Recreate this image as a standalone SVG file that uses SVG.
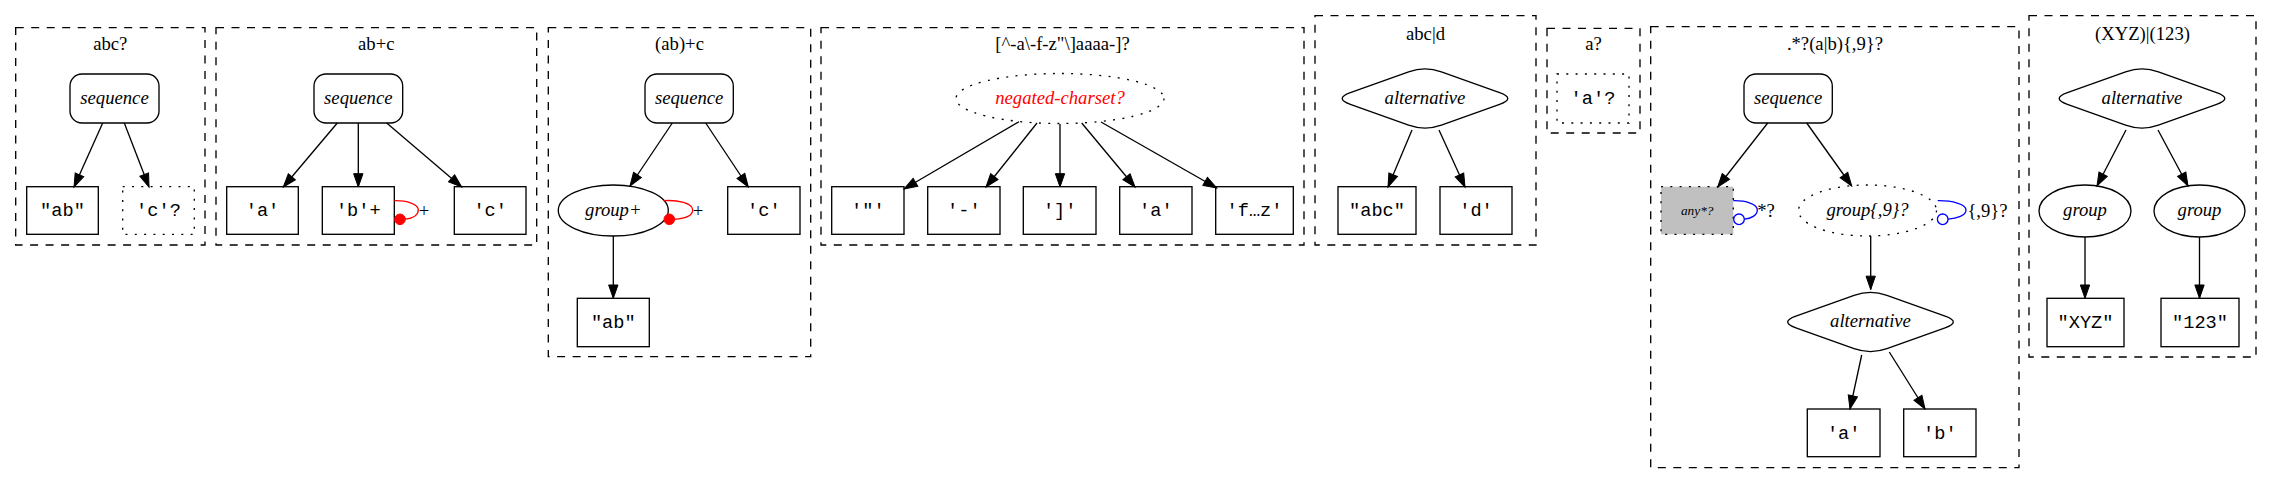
<svg xmlns="http://www.w3.org/2000/svg" width="2272" height="484" viewBox="0 0 2272 484">
<style>
.bg{fill:#fff}
.cl{fill:none;stroke:#000;stroke-width:1.33;stroke-dasharray:8,7.5}
.nd{fill:none;stroke:#000;stroke-width:1.33}
.dt{fill:none;stroke:#000;stroke-width:1.33;stroke-dasharray:2,7.3}
.e{fill:none;stroke:#000;stroke-width:1.33}
.title{font-family:"Liberation Serif",serif;font-size:18.67px;text-anchor:middle;fill:#000}
.it{font-family:"Liberation Serif",serif;font-style:italic;font-size:18.67px;text-anchor:middle;fill:#000}
.mono{font-family:"Liberation Mono",monospace;font-size:18.67px;text-anchor:middle;fill:#000}
.lbl{font-family:"Liberation Serif",serif;font-size:18.67px;text-anchor:middle;fill:#000}
</style>
<defs>
<marker id="ar" markerUnits="userSpaceOnUse" markerWidth="16" markerHeight="12" viewBox="0 -6 14 12" refX="13.33" refY="0" orient="auto">
<path d="M0,-4.67 L13.33,0 L0,4.67 Z" fill="#000" stroke="#000" stroke-width="1"/>
</marker>
</defs>
<rect class="bg" x="0" y="0" width="2272" height="484"/>

<!-- clusters -->
<g id="cluster1">
<rect class="cl" x="15.7" y="27.7" width="189.3" height="217.3"/>
<text class="title" x="110.3" y="49.5">abc?</text>
</g>
<g id="cluster2">
<rect class="cl" x="216" y="27.7" width="320.7" height="217.3"/>
<text class="title" x="376.3" y="49.5">ab+c</text>
</g>
<g id="cluster3">
<rect class="cl" x="548.3" y="27.7" width="262.4" height="329"/>
<text class="title" x="679.5" y="49.5">(ab)+c</text>
</g>
<g id="cluster4">
<rect class="cl" x="821" y="27.7" width="483" height="217.3"/>
<text class="title" x="1062.5" y="49.5">[^-a\-f-z"\]aaaa-]?</text>
</g>
<g id="cluster5">
<rect class="cl" x="1315" y="15.7" width="221" height="229.3"/>
<text class="title" x="1425.5" y="39.5">abc|d</text>
</g>
<g id="cluster6">
<rect class="cl" x="1547" y="28.3" width="93" height="104.7"/>
<text class="title" x="1593.5" y="50">a?</text>
</g>
<g id="cluster7">
<rect class="cl" x="1650.7" y="26.7" width="368.3" height="441"/>
<text class="title" x="1835" y="49.5">.*?(a|b){,9}?</text>
</g>
<g id="cluster8">
<rect class="cl" x="2029" y="15.7" width="227" height="341.3"/>
<text class="title" x="2142.5" y="39.5">(XYZ)|(123)</text>
</g>

<!-- cluster 1 nodes -->
<g id="c1_seq"><rect class="nd" x="70" y="74" width="89" height="49" rx="12"/><text class="it" x="114.5" y="103.5">sequence</text></g>
<g id="c1_ab"><rect class="nd" x="26.7" y="186.7" width="71.6" height="47.6"/><text class="mono" x="62.5" y="216">"ab"</text></g>
<g id="c1_c"><rect class="dt" x="122.7" y="186.7" width="71.6" height="47.6"/><text class="mono" x="158.5" y="216">'c'?</text></g>

<!-- cluster 2 nodes -->
<g id="c2_seq"><rect class="nd" x="314" y="74" width="88.7" height="49" rx="12"/><text class="it" x="358.3" y="103.5">sequence</text></g>
<g id="c2_a"><rect class="nd" x="226.7" y="186.7" width="71.6" height="47.6"/><text class="mono" x="262.5" y="216">'a'</text></g>
<g id="c2_b"><rect class="nd" x="322.3" y="186.7" width="72" height="47.6"/><text class="mono" x="358.3" y="216">'b'+</text></g>
<g id="c2_c"><rect class="nd" x="454.3" y="186.7" width="71.7" height="47.6"/><text class="mono" x="490.2" y="216">'c'</text></g>

<!-- cluster 3 nodes -->
<g id="c3_seq"><rect class="nd" x="645" y="74" width="88.3" height="49" rx="12"/><text class="it" x="689.2" y="103.5">sequence</text></g>
<g id="c3_group"><ellipse class="nd" cx="613.3" cy="210.5" rx="55" ry="25.5"/><text class="it" x="613.3" y="215.5">group+</text></g>
<g id="c3_c"><rect class="nd" x="727.7" y="186.7" width="72.3" height="47.6"/><text class="mono" x="763.8" y="216">'c'</text></g>
<g id="c3_ab"><rect class="nd" x="577.3" y="298.3" width="72" height="48.4"/><text class="mono" x="613.3" y="328">"ab"</text></g>

<!-- cluster 4 nodes -->
<g id="c4_neg"><ellipse class="dt" cx="1060" cy="98.5" rx="104" ry="25"/><text class="it" x="1060" y="103.5" fill="#ff0000" style="fill:#ff0000">negated-charset?</text></g>
<g id="c4_q"><rect class="nd" x="831.7" y="186.7" width="72.3" height="47.6"/><text class="mono" x="867.8" y="216">'"'</text></g>
<g id="c4_dash"><rect class="nd" x="927.7" y="186.7" width="72.3" height="47.6"/><text class="mono" x="963.8" y="216">'-'</text></g>
<g id="c4_br"><rect class="nd" x="1023.3" y="186.7" width="72.7" height="47.6"/><text class="mono" x="1059.7" y="216">']'</text></g>
<g id="c4_a"><rect class="nd" x="1119.7" y="186.7" width="72.3" height="47.6"/><text class="mono" x="1155.8" y="216">'a'</text></g>
<g id="c4_fz"><rect class="nd" x="1215.7" y="186.7" width="77.6" height="47.6"/><text class="mono" x="1254.5" y="216">'f…z'</text></g>

<!-- cluster 5 nodes -->
<g id="c5_alt"><path class="nd" d="M1350.4,92.65 L1408.6,71.85 Q1425,66 1441.4,71.85 L1499.6,92.65 Q1516,98.5 1499.6,104.35 L1441.4,125.15 Q1425,131 1408.6,125.15 L1350.4,104.35 Q1334,98.5 1350.4,92.65 Z"/><text class="it" x="1425" y="103.5">alternative</text></g>
<g id="c5_abc"><rect class="nd" x="1338" y="186.7" width="78" height="47.6"/><text class="mono" x="1377" y="216">"abc"</text></g>
<g id="c5_d"><rect class="nd" x="1440" y="186.7" width="72" height="47.6"/><text class="mono" x="1476" y="216">'d'</text></g>

<!-- cluster 6 nodes -->
<g id="c6_a"><rect class="dt" x="1557" y="74" width="72" height="49"/><text class="mono" x="1593" y="104">'a'?</text></g>

<!-- cluster 7 nodes -->
<g id="c7_seq"><rect class="nd" x="1744" y="74" width="88.3" height="49" rx="12"/><text class="it" x="1788.2" y="103.5">sequence</text></g>
<g id="c7_any"><rect x="1661" y="186.7" width="72.3" height="47.6" fill="#c0c0c0" stroke="#000" stroke-width="1.33" stroke-dasharray="2,7.3"/><text class="it" x="1697.2" y="214.5" style="font-size:13.33px">any*?</text></g>
<g id="c7_group"><ellipse class="dt" cx="1867.5" cy="210.5" rx="69" ry="25.5"/><text class="it" x="1867.5" y="215.5">group{,9}?</text></g>
<g id="c7_alt"><path class="nd" d="M1795.9,316.15 L1854.1,295.35 Q1870.5,289.5 1886.9,295.35 L1945.1,316.15 Q1961.5,322 1945.1,327.85 L1886.9,348.65 Q1870.5,354.5 1854.1,348.65 L1795.9,327.85 Q1779.5,322 1795.9,316.15 Z"/><text class="it" x="1870.5" y="327">alternative</text></g>
<g id="c7_a"><rect class="nd" x="1807.3" y="409" width="72.7" height="47.7"/><text class="mono" x="1843.7" y="438.5">'a'</text></g>
<g id="c7_b"><rect class="nd" x="1903.7" y="409" width="72.3" height="47.7"/><text class="mono" x="1939.8" y="438.5">'b'</text></g>

<!-- cluster 8 nodes -->
<g id="c8_alt"><path class="nd" d="M2067.4,92.65 L2125.6,71.85 Q2142,66 2158.4,71.85 L2216.6,92.65 Q2233,98.5 2216.6,104.35 L2158.4,125.15 Q2142,131 2125.6,125.15 L2067.4,104.35 Q2051,98.5 2067.4,92.65 Z"/><text class="it" x="2142" y="103.5">alternative</text></g>
<g id="c8_g1"><ellipse class="nd" cx="2085" cy="211" rx="46" ry="26"/><text class="it" x="2085" y="216">group</text></g>
<g id="c8_g2"><ellipse class="nd" cx="2199.5" cy="211" rx="45.5" ry="26"/><text class="it" x="2199.5" y="216">group</text></g>
<g id="c8_xyz"><rect class="nd" x="2047" y="298.3" width="77" height="48.4"/><text class="mono" x="2085.5" y="328">"XYZ"</text></g>
<g id="c8_123"><rect class="nd" x="2161" y="298.3" width="78" height="48.4"/><text class="mono" x="2200" y="328">"123"</text></g>

<!-- connectors -->
<g id="edges">
<path class="e" marker-end="url(#ar)" d="M102.7,123 L74,187"/>
<path class="e" marker-end="url(#ar)" d="M124.3,123 L149,187"/>

<path class="e" marker-end="url(#ar)" d="M337.3,123 L283.3,187"/>
<path class="e" marker-end="url(#ar)" d="M358.3,123 L358.3,187"/>
<path class="e" marker-end="url(#ar)" d="M386.7,123 L461.7,187"/>
<path d="M394.3,200.7 C407,200.5 418.3,204 418.3,210 C418.3,215.5 412,218.5 405,219.2" fill="none" stroke="#ff0000" stroke-width="1.33"/>
<circle cx="400" cy="219.3" r="5.3" fill="#ff0000" stroke="#ff0000"/>
<text class="lbl" x="424" y="217">+</text>

<path class="e" marker-end="url(#ar)" d="M672.3,123 L630,186"/>
<path class="e" marker-end="url(#ar)" d="M705.7,123 L748.3,187"/>
<path class="e" marker-end="url(#ar)" d="M613.3,236 L613.3,298.3"/>
<path d="M663.3,200.7 C678,199.5 692.7,203.5 692.7,210 C692.7,215.5 685,218.5 674.5,219.3" fill="none" stroke="#ff0000" stroke-width="1.33"/>
<circle cx="669.3" cy="219.3" r="5.3" fill="#ff0000" stroke="#ff0000"/>
<text class="lbl" x="698" y="217">+</text>

<path class="e" marker-end="url(#ar)" d="M1019,121.7 L904,189"/>
<path class="e" marker-end="url(#ar)" d="M1037,123 L986,187"/>
<path class="e" marker-end="url(#ar)" d="M1060,124 L1060,187"/>
<path class="e" marker-end="url(#ar)" d="M1081.7,123 L1135,187"/>
<path class="e" marker-end="url(#ar)" d="M1101,122 L1216.7,188"/>

<path class="e" marker-end="url(#ar)" d="M1412,130 L1388,187"/>
<path class="e" marker-end="url(#ar)" d="M1439,130 L1465,187"/>

<path class="e" marker-end="url(#ar)" d="M1767.7,123 L1717.7,187"/>
<path class="e" marker-end="url(#ar)" d="M1806.7,123 L1851.7,186"/>
<path class="e" marker-end="url(#ar)" d="M1870.7,236 L1870.7,289.5"/>
<path class="e" marker-end="url(#ar)" d="M1861.7,355 L1850,409"/>
<path class="e" marker-end="url(#ar)" d="M1889.3,352 L1925,409"/>
<path d="M1733.3,200.7 C1746,200.5 1757.3,204 1757.3,210 C1757.3,215.5 1751,218.5 1744.3,219.2" fill="none" stroke="#0000ff" stroke-width="1.33"/>
<circle cx="1739" cy="219.3" r="5.3" fill="none" stroke="#0000ff" stroke-width="1.33"/>
<text class="lbl" x="1766" y="217">*?</text>
<path d="M1937.7,200.7 C1952,200.5 1966,204 1966,210 C1966,215.5 1957,218.5 1948,219.2" fill="none" stroke="#0000ff" stroke-width="1.33"/>
<circle cx="1942.7" cy="219.3" r="5.3" fill="none" stroke="#0000ff" stroke-width="1.33"/>
<text class="lbl" x="1987.5" y="217">{,9}?</text>

<path class="e" marker-end="url(#ar)" d="M2126,130 L2097,186"/>
<path class="e" marker-end="url(#ar)" d="M2158,130 L2188,186"/>
<path class="e" marker-end="url(#ar)" d="M2085,237 L2085,298.3"/>
<path class="e" marker-end="url(#ar)" d="M2199.5,237 L2199.5,298.3"/>
</g>
</svg>
